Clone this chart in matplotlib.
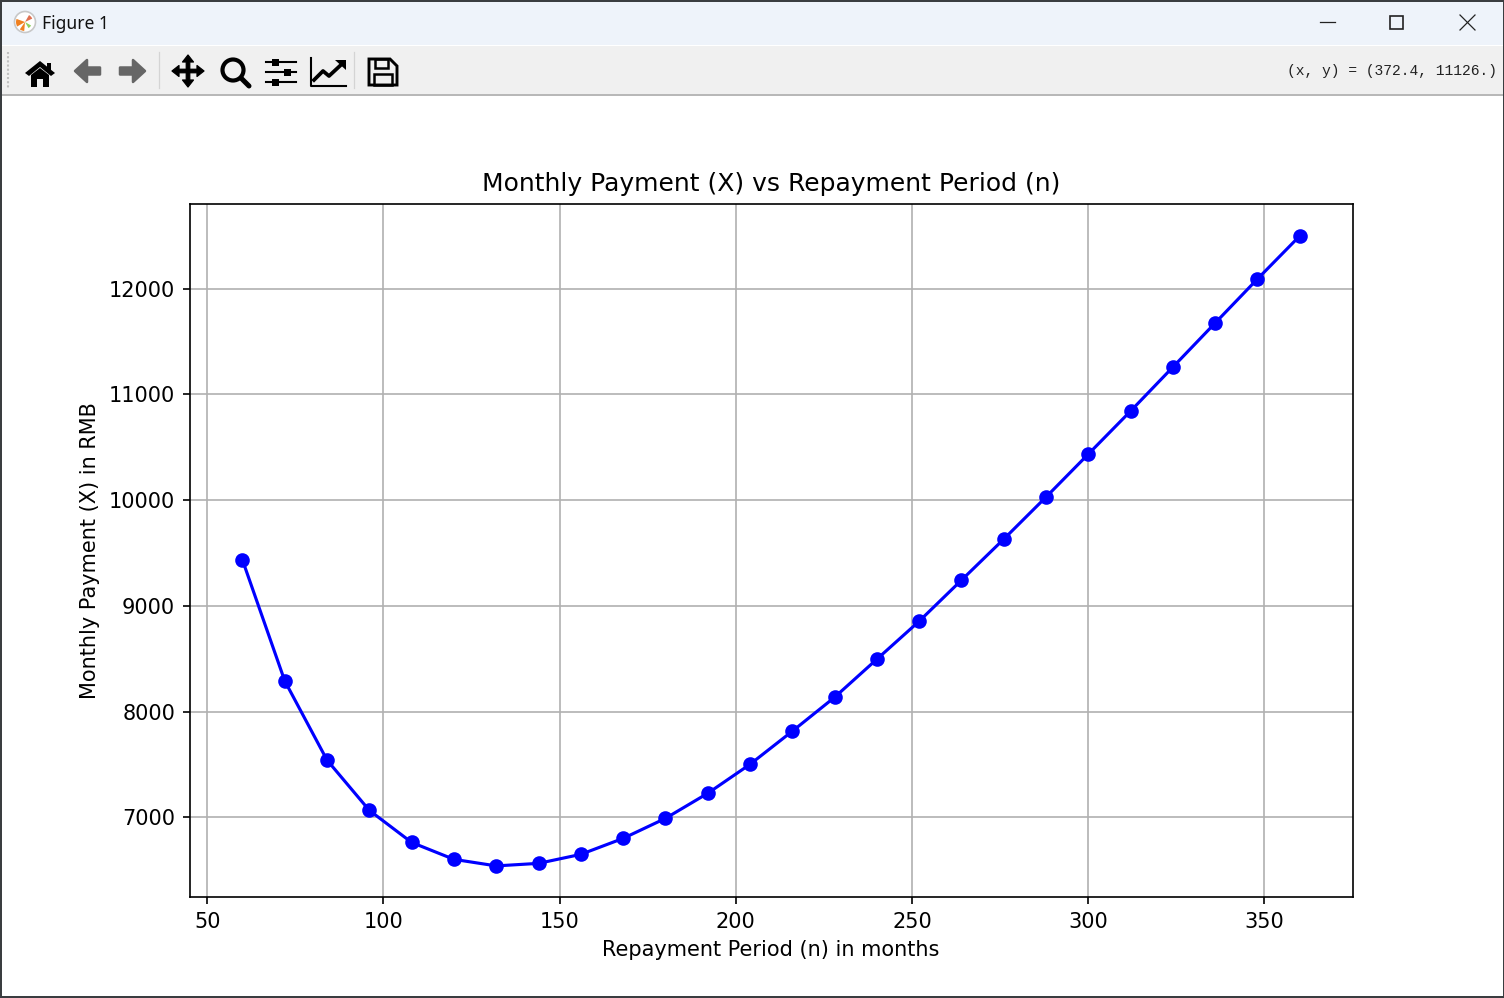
import matplotlib
matplotlib.use("Agg")
import matplotlib.pyplot as plt
from matplotlib.patches import Rectangle, Circle, Polygon, FancyArrow, Wedge

n_months = [60, 72, 84, 96, 108, 120, 132, 144, 156, 168, 180, 192, 204, 216, 228,
            240, 252, 264, 276, 288, 300, 312, 324, 336, 348, 360]
payment = [9433, 8290, 7541, 7066, 6763, 6603, 6541, 6565, 6650, 6801, 6990, 7227, 7501,
           7814, 8135, 8495, 8854, 9242, 9630, 10028, 10434, 10841, 11257, 11674, 12090, 12497]
x_ticks = [50, 100, 150, 200, 250, 300, 350]
y_ticks = [7000, 8000, 9000, 10000, 11000, 12000]
title = "Monthly Payment (X) vs Repayment Period (n)"
x_label = "Repayment Period (n) in months"
y_label = "Monthly Payment (X) in RMB"
window_title = "Figure 1"
cursor_text = "(x, y) = (372.4, 11126.)"

W, H = 1504, 998
DPI = 150
fig = plt.figure(figsize=(W / DPI, H / DPI), dpi=DPI, facecolor="white")

# window frame of the screenshot, drawn in pixel coordinates behind the chart
ui = fig.add_axes([0, 0, 1, 1], zorder=-1)
ui.set_xlim(0, W)
ui.set_ylim(H, 0)
ui.axis("off")
ui.add_patch(Rectangle((0, 0), W, 45, color="#eef3fa", lw=0))
ui.add_patch(Rectangle((0, 46), W, 49, color="#f0f0f0", lw=0))
ui.add_patch(Rectangle((0, 94), W, 1.5, color="#b8b8b8", lw=0))
for rect in [(0, 0, W, 1.5), (0, 996, W, 2), (0, 0, 1.5, H), (W - 1.5, 0, 1.5, H)]:
    ui.add_patch(Rectangle(rect[:2], rect[2], rect[3], color="#3a3d40", lw=0))
ui.text(42, 24, window_title, fontsize=8.4, va="center", family="Noto Sans", color="#111111")
ui.text(1497, 71, cursor_text, fontsize=7, va="center", ha="right", family="Liberation Mono",
        color="#222222")

# app logo
ui.add_patch(Circle((25, 22), 10.5, fc="white", ec="#c8c8c8", lw=0.8))
ui.add_patch(Wedge((25, 22), 9, 150, 200, fc="#f08020", lw=0))
ui.add_patch(Wedge((25, 22), 9, 95, 125, fc="#f08020", lw=0))
ui.add_patch(Wedge((25, 22), 8, 300, 335, fc="#e07050", lw=0))
ui.add_patch(Wedge((25, 22), 7, 30, 60, fc="#90d060", lw=0))

# window buttons
ui.plot([1320, 1335], [22, 22], color="#222222", lw=0.6)
ui.add_patch(Rectangle((1390, 16), 13, 13, fc="none", ec="#222222", lw=0.8))
ui.plot([1460, 1475], [15, 30], color="#222222", lw=0.6)
ui.plot([1460, 1475], [30, 15], color="#222222", lw=0.6)

# toolbar separators
for sx in [159, 354]:
    ui.plot([sx, sx], [52, 88], color="#d4d4d4", lw=0.6)
ui.plot([8, 8], [52, 88], color="#c0c0c0", lw=1.0, ls=(0, (1, 1)))

# home
ui.add_patch(Polygon([(25, 73), (40, 61), (55, 73), (51, 76), (40, 67), (29, 76)], fc="black", lw=0))
ui.add_patch(Polygon([(31, 75), (40, 68), (49, 75), (49, 87), (43, 87), (43, 79), (37, 79), (37, 87), (31, 87)],
                     fc="black", lw=0))
ui.add_patch(Rectangle((47, 63), 4, 8, fc="black", lw=0))
# back and forward
ui.add_patch(FancyArrow(100, 71, -25, 0, width=7, head_width=22, head_length=12,
                        length_includes_head=True, fc="#666666", ec="#666666", lw=1.2, joinstyle="round"))
ui.add_patch(FancyArrow(120, 71, 25, 0, width=7, head_width=22, head_length=12,
                        length_includes_head=True, fc="#666666", ec="#666666", lw=1.2, joinstyle="round"))
# pan
for dx, dy in [(1, 0), (-1, 0), (0, 1), (0, -1)]:
    ui.add_patch(FancyArrow(188, 71, 16 * dx, 16 * dy, width=3.5, head_width=11, head_length=7,
                            length_includes_head=True, fc="black", ec="black", lw=0.6, joinstyle="round"))
# zoom
ui.add_patch(Circle((233, 70), 10.5, fc="none", ec="black", lw=2.0))
ui.plot([241, 249], [78, 86], color="black", lw=2.4, solid_capstyle="round")
# sliders
for sy, sx in [(62, 275), (72, 287), (82, 275)]:
    ui.plot([266, 296], [sy, sy], color="black", lw=1.0)
    ui.add_patch(Rectangle((sx - 3.5, sy - 3.5), 7, 7, fc="black", lw=0))
# chart
ui.plot([311, 311, 346], [58, 86, 86], color="black", lw=1.0)
ui.plot([314, 323, 329, 343], [80, 71, 76, 63], color="black", lw=1.8)
ui.add_patch(Polygon([(335, 60), (346, 60), (346, 70)], fc="black", lw=0))
# save
ui.add_patch(Polygon([(369, 59), (390, 59), (397, 66), (397, 85), (369, 85)], fc="none", ec="black", lw=1.4))
ui.add_patch(Rectangle((375, 59), 13, 9, fc="none", ec="black", lw=1.2))
ui.add_patch(Rectangle((374, 74), 18, 11, fc="none", ec="black", lw=1.2))

# the chart
ax = fig.add_axes([189.6 / W, 1 - 897 / H, 1163 / W, (897 - 204) / H])
ax.plot(n_months, payment, color="blue", marker="o", linewidth=1.5)
ax.set_xticks(x_ticks)
ax.set_yticks(y_ticks)
ax.set_xlim(45, 375)
ax.set_ylim(6247, 12799)
ax.grid(True)
ax.set_title(title)
ax.set_xlabel(x_label)
ax.set_ylabel(y_label)

fig.savefig("out.png", dpi=DPI)
